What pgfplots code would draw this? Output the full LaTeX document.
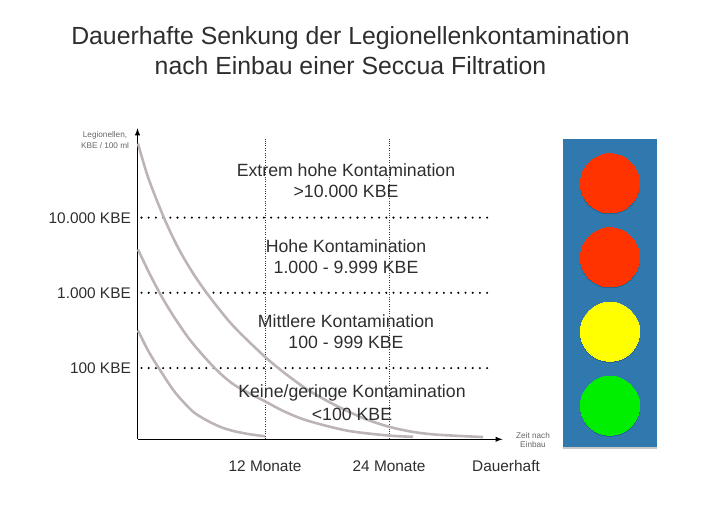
\documentclass[border=0pt]{standalone}
\usepackage{fontspec}
\setmainfont{Liberation Sans}
\usepackage{pgfplots}
\pgfplotsset{compat=1.18}
\definecolor{textgray}{HTML}{2E2E2E}
\definecolor{labelgray}{HTML}{666666}
\definecolor{curvegray}{HTML}{BDB5B5}
\definecolor{panelblue}{HTML}{2F79AE}
\definecolor{panelshade}{HTML}{24628F}
\definecolor{lightred}{HTML}{FF3300}
\definecolor{lightyellow}{HTML}{FFFF00}
\definecolor{lightgreen}{HTML}{00EE00}
\begin{document}
\begin{tikzpicture}[x=1pt,y=1pt]
  \path[use as bounding box] (0,0) rectangle (701,526);

  % main chart: y is KBE on a log scale, x is pixels from the origin
  \begin{axis}[
      at={(137.5pt,86.7pt)},anchor=south west,
      scale only axis,width=365pt,height=311pt,
      xmin=0,xmax=365,ymode=log,ymin=11.3,ymax=153900,
      axis lines=left,clip=false,
      axis line style={line width=1.4pt,-latex},
      tick style={draw=none},yminorticks=false,
      xtick={127.5,251.5},xticklabels={12 Monate,24 Monate},
      ytick={100,1000,10000},yticklabels={100 KBE,1.000 KBE,10.000 KBE},
      ticklabel style={font=\fontsize{15.4}{18}\selectfont,text=textgray},
      xticklabel style={yshift=-16pt},
      yticklabel style={xshift=-1pt,yshift=-0.5pt},
    ]
    % horizontal limits
    \addplot[black,line width=2.3pt,line cap=round,dash pattern=on 0pt off 7.2pt] coordinates {(4,10000)(354,10000)};
    \addplot[black,line width=2.3pt,line cap=round,dash pattern=on 0pt off 7.2pt] coordinates {(4,1000)(354,1000)};
    \addplot[black,line width=2.3pt,line cap=round,dash pattern=on 0pt off 7.2pt] coordinates {(4,100)(354,100)};
    % vertical limits
    \addplot[black!80,line width=0.6pt,dash pattern=on 1pt off 1.4pt] coordinates {(127.5,11.3)(127.5,110000)};
    \addplot[black!80,line width=0.6pt,dash pattern=on 1pt off 1.4pt] coordinates {(251.5,11.3)(251.5,110000)};
    % curves
    \addplot[curvegray,line width=2.6pt,smooth] coordinates {
      (0.5,96400)(11,33060)(27,9580)(41,3887)(56,1782)(71,924)(90,443)(104,280)
      (127.5,141)(147.5,85)(171,50.6)(197,32.5)(225,21.8)(250,16.8)(275,14.2)
      (300,13)(345.5,12.1)};
    \addplot[curvegray,line width=2.6pt,smooth] coordinates {
      (0.5,3770)(11,1924)(23.5,924)(37.5,457)(54,223)(77.5,99.1)(97.5,58.9)
      (127.5,36.1)(147.5,26.2)(170.5,19.9)(210,14.7)(250.5,12.7)(275.5,12.2)};
    \addplot[curvegray,line width=2.6pt,smooth] coordinates {
      (0.5,317)(11,167)(24,87.7)(37.5,47.6)(54,27.4)(64,22.1)(74,18.7)(85,16.1)
      (97.5,14.4)(112,13.2)(127.5,12.4)};
  \end{axis}

  % traffic light panel
  \begin{axis}[
      at={(562.7pt,79pt)},anchor=south west,
      scale only axis,width=94.3pt,height=308pt,
      xmin=0,xmax=94.3,ymin=0,ymax=308,
      hide axis,clip=false,
    ]
    \addplot[draw=none,fill=black!22] coordinates {(0.5,-2)(93.8,-2)(93.8,5)(0.5,5)} --cycle;
    \addplot[draw=none,fill=panelblue] coordinates {(0,0)(94.3,0)(94.3,308)(0,308)} --cycle;
    \addplot[only marks,mark=*,mark size=29.8pt,mark options={draw=panelshade,fill=panelshade,line width=0pt}]
      coordinates {(47.3,262.9)(47.3,188.9)(47.3,114.5)(47.3,40.5)};
    \addplot[only marks,mark=*,mark size=29.6pt,mark options={draw=lightred,fill=lightred,line width=0pt}]
      coordinates {(47.3,263.7)(47.3,189.7)};
    \addplot[only marks,mark=*,mark size=29.6pt,mark options={draw=lightyellow,fill=lightyellow,line width=0pt}]
      coordinates {(47.3,115.3)};
    \addplot[only marks,mark=*,mark size=29.6pt,mark options={draw=lightgreen,fill=lightgreen,line width=0pt}]
      coordinates {(47.3,41.3)};
  \end{axis}

  % texts, placed in reference pixels
  \begin{scope}[shift={(0,526)},y=-1pt,every node/.style={text=textgray,align=center,inner sep=0pt}]
    \node[font=\fontsize{24.8}{28}\selectfont] at (350.5,38.5) {Dauerhafte Senkung der Legionellenkontamination};
    \node[font=\fontsize{24.8}{28}\selectfont] at (350.5,66) {nach Einbau einer Seccua Filtration};

    \node[font=\fontsize{17.7}{20}\selectfont] at (346,170) {Extrem hohe Kontamination};
    \node[font=\fontsize{17.7}{20}\selectfont] at (346,191) {>10.000 KBE};
    \node[font=\fontsize{17.7}{20}\selectfont] at (346,246) {Hohe Kontamination};
    \node[font=\fontsize{17.7}{20}\selectfont] at (346,267) {1.000 - 9.999 KBE};
    \node[font=\fontsize{17.7}{20}\selectfont] at (346,321) {Mittlere Kontamination};
    \node[font=\fontsize{17.7}{20}\selectfont] at (346,342) {100 - 999 KBE};
    \node[font=\fontsize{17.7}{20}\selectfont] at (352,393) {Keine/geringe Kontamination};
    \node[font=\fontsize{17.7}{20}\selectfont] at (352,414) {<100 KBE};

    \node[font=\fontsize{15.4}{18}\selectfont] at (506,466) {Dauerhaft};

    \node[font=\fontsize{8.2}{10}\selectfont,text=labelgray] at (105,135) {Legionellen,};
    \node[font=\fontsize{8.2}{10}\selectfont,text=labelgray] at (105,146) {KBE / 100 ml};
    \node[font=\fontsize{8.2}{10}\selectfont,text=labelgray] at (533,435.5) {Zeit nach};
    \node[font=\fontsize{8.2}{10}\selectfont,text=labelgray] at (533,444.5) {Einbau};
  \end{scope}
\end{tikzpicture}
\end{document}
